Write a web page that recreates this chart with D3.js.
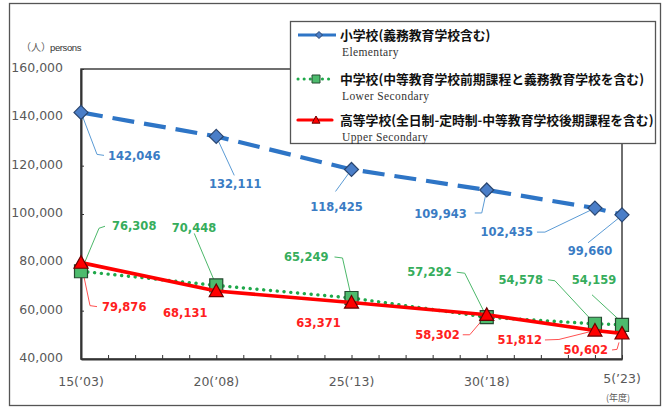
<!DOCTYPE html>
<html>
<head>
<meta charset="utf-8">
<script src="https://cdn.jsdelivr.net/npm/d3@7"></script>
<style>
  body { margin: 0; background: #fff; }
  svg { display: block; }
</style>
</head>
<body>
<div id="chart"></div>
<script>
// data
var years = [2003, 2008, 2013, 2018, 2022, 2023];
var elementary = [142046, 132111, 118425, 109943, 102435, 99660];
var lowerSecondary = [76308, 70448, 65249, 57292, 54578, 54159];
var upperSecondary = [79876, 68131, 63371, 58302, 51812, 50602];
var yTicks = [40000, 60000, 80000, 100000, 120000, 140000, 160000];
var xTickYears = [2003, 2008, 2013, 2018, 2023];
var xTickLabels = ["15(\u201903)", "20(\u201908)", "25(\u201913)", "30(\u201918)", "5(\u201923)"];
var seriesNames = [
  "小学校(義務教育学校含む)",
  "中学校(中等教育学校前期課程と義務教育学校を含む)",
  "高等学校(全日制-定時制-中等教育学校後期課程を含む)"
];
var seriesNamesEn = ["Elementary", "Lower Secondary", "Upper Secondary"];

// label layout: text offset from the point, anchor, leader path (offsets)
var elemLabels = [
  {dx: 27, dy: 43, a: "start", lead: [[0,0],[16,42],[23,43]]},
  {dx: 19, dy: 47, a: "middle", lead: [[0,0],[18,39]]},
  {dx: -15, dy: 37, a: "middle", lead: [[0,0],[-16,22]]},
  {dx: -20, dy: 24, a: "end", lead: [[0,0],[-5,23],[-12,23]]},
  {dx: -62, dy: 24, a: "end", lead: [[0,0],[-50,24],[-58,24]]},
  {dx: -32, dy: 36, a: "middle", lead: [[-3,3],[-34,28]]}
];
var lowerLabels = [
  {dx: 31, dy: -45, a: "start", lead: [[0,0],[18,-43],[24,-45]]},
  {dx: 0, dy: -58, a: "end", lead: [[0,0],[-22,-52]]},
  {dx: -23, dy: -41, a: "end", lead: [[0,0],[-9,-40],[-17,-41]]},
  {dx: -35, dy: -45, a: "end", lead: [[0,0],[-22,-44],[-30,-45]]},
  {dx: -52, dy: -44, a: "end", lead: [[0,0],[-40,-43],[-47,-44]]},
  {dx: -28, dy: -45, a: "middle", lead: [[-4,-6],[-30,-30]]}
];
var upperLabels = [
  {dx: 21, dy: 44, a: "start", lead: [[0,0],[9,43],[16,44]]},
  {dx: -31, dy: 22, a: "middle", lead: null},
  {dx: -33, dy: 20, a: "middle", lead: null},
  {dx: -27, dy: 20, a: "end", lead: [[0,0],[-17,20],[-24,20]]},
  {dx: -53, dy: 9.5, a: "end", lead: [[0,0],[-36,9],[-50,9.5]]},
  {dx: -14, dy: 16.6, a: "end", lead: [[-3,9],[-5,16],[-10,16.6]]}
];

var W = 665, H = 408;
var svg = d3.select("#chart").append("svg")
  .attr("width", W)
  .attr("height", H);

var x = d3.scaleLinear().domain([2003, 2023]).range([81, 622]);
var y = d3.scaleLinear().domain([40000, 160000]).range([359, 69]);

var fmt = d3.format(",");
var axisFont = "'DejaVu Sans', Verdana, sans-serif";

// outer frame
svg.append("rect")
  .attr("x", 9.5).attr("y", 3.5)
  .attr("width", 651).attr("height", 402)
  .attr("fill", "#fff")
  .attr("stroke", "#555")
  .attr("stroke-width", 1.3);

// plot frame
svg.append("rect")
  .attr("x", x(2003)).attr("y", y(160000))
  .attr("width", x(2023) - x(2003))
  .attr("height", y(40000) - y(160000))
  .attr("fill", "none")
  .attr("stroke", "#404040")
  .attr("stroke-width", 1.5);

// y axis
var yAxis = svg.append("g")
  .attr("transform", "translate(" + x(2003) + ",0)")
  .call(d3.axisLeft(y).tickValues(yTicks).tickSizeInner(-3).tickSizeOuter(0).tickPadding(18).tickFormat(fmt));
yAxis.select(".domain").attr("stroke", "#333").attr("stroke-width", 2);
yAxis.selectAll(".tick line").attr("stroke", "#333");
yAxis.selectAll("text")
  .attr("fill", "#595959")
  .style("font-family", axisFont)
  .style("font-size", "12.5px")
  .attr("dy", "0.2em");

// x axis: minor ticks every year, labels every five
var xAxis = svg.append("g")
  .attr("transform", "translate(0," + y(40000) + ")")
  .call(d3.axisBottom(x).tickValues(d3.range(2003, 2024)).tickSizeInner(-4).tickSizeOuter(0).tickFormat(""));
xAxis.select(".domain").attr("stroke", "#333").attr("stroke-width", 2);
xAxis.selectAll(".tick line").attr("stroke", "#333");

svg.selectAll(".xlab")
  .data(xTickYears)
  .enter().append("text")
  .attr("class", "xlab")
  .attr("x", function(d) { return x(d); })
  .attr("y", function(d, i) { return i === 4 ? 383 : 386; })
  .attr("text-anchor", "middle")
  .attr("fill", "#595959")
  .style("font-family", axisFont)
  .style("font-size", "12.5px")
  .text(function(d, i) { return xTickLabels[i]; });

svg.append("text")
  .attr("x", 618).attr("y", 401)
  .attr("text-anchor", "middle")
  .attr("fill", "#595959")
  .style("font-family", "'Noto Sans CJK JP', sans-serif")
  .style("font-size", "9px")
  .text("(年度)");

// unit
svg.append("text")
  .attr("x", 21).attr("y", 51)
  .attr("fill", "#595959")
  .style("font-family", "'Noto Sans CJK JP', sans-serif")
  .style("font-size", "10px")
  .text("（人）");
svg.append("text")
  .attr("x", 50).attr("y", 51)
  .attr("fill", "#333")
  .style("font-family", "'Liberation Sans', Arial, sans-serif")
  .style("font-size", "9.5px")
  .style("letter-spacing", "-0.4px")
  .text("persons");

var line = d3.line()
  .x(function(d, i) { return x(years[i]); })
  .y(function(d) { return y(d); });

var series = [
  {vals: elementary, stroke: "#2e75c6", width: 4.2, dash: "22,10", cap: "butt",
   text: "#3a7cc4", lead: "#5b9bd5", labels: elemLabels, marker: "diamond",
   fill: "#4a7ec8", mstroke: "#2a4670"},
  {vals: lowerSecondary, stroke: "#1fa84a", width: 3.4, dash: "0.1,6.7", cap: "round",
   text: "#36ad5c", lead: "#4cb86a", labels: lowerLabels, marker: "square",
   fill: "#4dbb6d", mstroke: "#244a30"},
  {vals: upperSecondary, stroke: "#ff0000", width: 3.6, dash: null, cap: "round",
   text: "#ff2020", lead: "#ff5050", labels: upperLabels, marker: "triangle",
   fill: "#ff0000", mstroke: "#6a0000"}
];

function markerPath(type, s) {
  if (type === "diamond") return "M0," + (-s) + "L" + s + ",0L0," + s + "L" + (-s) + ",0Z";
  if (type === "square") return "M" + (-s) + "," + (-s) + "h" + (2 * s) + "v" + (2 * s) + "h" + (-2 * s) + "Z";
  return "M0," + (-s) + "L" + s + "," + (s * 0.8) + "L" + (-s) + "," + (s * 0.8) + "Z";
}

// leader lines first (behind everything)
series.forEach(function(s) {
  s.vals.forEach(function(v, i) {
    var l = s.labels[i];
    if (!l.lead) return;
    var px = x(years[i]), py = y(v);
    svg.append("path")
      .attr("d", d3.line()(l.lead.map(function(p) { return [px + p[0], py + p[1]]; })))
      .attr("fill", "none")
      .attr("stroke", s.lead)
      .attr("stroke-width", 1);
  });
});

series.forEach(function(s) {
  svg.append("path")
    .datum(s.vals)
    .attr("d", line)
    .attr("fill", "none")
    .attr("stroke", s.stroke)
    .attr("stroke-width", s.width)
    .attr("stroke-linecap", s.cap)
    .attr("stroke-dasharray", s.dash);

  svg.selectAll(null)
    .data(s.vals)
    .enter().append("path")
    .attr("transform", function(d, i) { return "translate(" + x(years[i]) + "," + y(d) + ")"; })
    .attr("d", markerPath(s.marker, s.marker === "square" ? 6.5 : 7))
    .attr("fill", s.fill)
    .attr("stroke", s.mstroke)
    .attr("stroke-width", 1.2);
});

series.forEach(function(s) {
  svg.selectAll(null)
    .data(s.vals)
    .enter().append("text")
    .attr("x", function(d, i) { return x(years[i]) + s.labels[i].dx; })
    .attr("y", function(d, i) { return y(d) + s.labels[i].dy; })
    .attr("dy", "0.36em")
    .attr("text-anchor", function(d, i) { return s.labels[i].a; })
    .attr("fill", s.text)
    .style("font-family", axisFont)
    .style("font-weight", "bold")
    .style("font-size", "11.5px")
    .text(function(d) { return fmt(d); });
});

// legend
var legend = svg.append("g");
legend.append("rect")
  .attr("x", 290.5).attr("y", 21.5)
  .attr("width", 365).attr("height", 122)
  .attr("fill", "#fff")
  .attr("stroke", "#555")
  .attr("stroke-width", 1.3);

var legRows = [35, 79, 120];
var legMarkX = [319, 316, 316];
series.forEach(function(s, i) {
  var g = legend.append("g").attr("transform", "translate(0," + legRows[i] + ")");
  g.append("line")
    .attr("x1", 298).attr("x2", i === 0 ? 336 : 332)
    .attr("stroke", s.stroke)
    .attr("stroke-width", i === 1 ? 3 : 3.2)
    .attr("stroke-linecap", s.cap)
    .attr("stroke-dasharray", i === 1 ? "0.1,6" : null);
  g.append("path")
    .attr("transform", "translate(" + legMarkX[i] + ",0)")
    .attr("d", markerPath(s.marker, i === 0 ? 3.5 : 4))
    .attr("fill", s.fill)
    .attr("stroke", s.mstroke)
    .attr("stroke-width", 1);
  g.append("text")
    .attr("x", 340).attr("y", 1)
    .attr("dy", "0.35em")
    .attr("fill", "#111")
    .style("font-family", "'Noto Sans CJK JP', sans-serif")
    .style("font-weight", "bold")
    .style("font-size", "12.8px")
    .text(seriesNames[i]);
  g.append("text")
    .attr("x", 342).attr("y", 16.5)
    .attr("dy", "0.35em")
    .attr("fill", "#333")
    .style("font-family", "'Liberation Serif', 'Times New Roman', serif")
    .style("font-size", "11.5px")
    .style("letter-spacing", "0.4px")
    .text(seriesNamesEn[i]);
});
</script>
</body>
</html>
